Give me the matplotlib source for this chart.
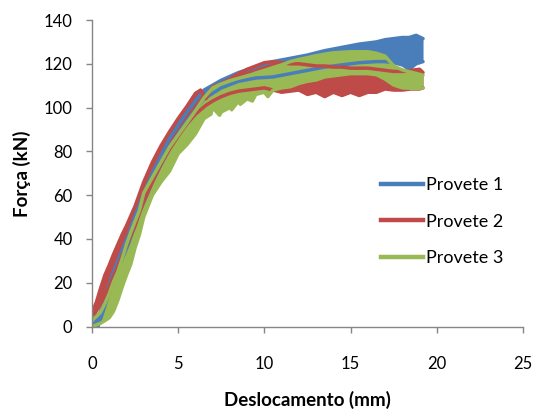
import matplotlib
matplotlib.use("Agg")
import matplotlib.pyplot as plt
import numpy as np
from matplotlib.lines import Line2D

plt.rcParams['font.family'] = ['Lato', 'DejaVu Sans']

# Provete 1 (blue) - lower / upper edge of the band
x1 = [0.1, 0.35, 0.65, 0.95, 1.3, 1.7, 2.1, 2.5, 2.8, 3.5, 4.5, 5.5, 6.5, 7.5, 8.5, 9.5,
      10.5, 11.5, 12.5, 13.5, 14.5, 15.5, 16.5, 17.0, 17.5, 18.0, 18.4, 18.8, 19.2]
hi1 = [1, 3.5, 11, 18.5, 26, 34, 41.5, 50.5, 57, 70, 86, 98, 108, 112.5, 116, 118.5,
       121, 122.5, 124, 126, 127.5, 129, 130, 131, 131.5, 132, 132, 133, 131.5]
lo1 = [0, 0, 7, 14.5, 22, 30, 37.5, 46.5, 53, 66, 82, 94, 104, 109, 112, 113.5,
       114, 115.5, 117, 118.5, 119.5, 120.5, 121, 121, 120.5, 119.5, 117.5, 120, 121]

# Provete 2 (red)
x2 = [0, 0.25, 0.5, 0.75, 1.0, 1.25, 1.5, 1.75, 2.0, 2.25, 2.5, 2.75, 3.0,
      3.5, 4.0, 4.5, 5.0, 5.5, 6.0, 6.3, 6.6, 7.0, 7.5, 8.0, 8.5, 9.0, 9.5, 10.0,
      10.5, 11.0, 11.5, 12.0, 12.5, 13.0, 13.5, 14.0, 14.5, 15.0, 15.5, 16.0, 16.5,
      17.0, 17.5, 18.0, 18.5, 19.0, 19.2]
hi2 = [6.5, 11, 17.5, 23.5, 28, 33, 37.5, 42, 46, 50.5, 55, 60.5, 66,
       75, 82.5, 89, 95, 100.5, 106.5, 108, 104, 109.5, 111, 113, 115.5, 117.5, 119, 120.5,
       121, 120.5, 120, 120, 119.5, 119, 119, 118.5, 118.5, 118, 118, 118, 117.5,
       117, 116.5, 116.5, 117, 117.5, 116]
lo2 = [3, 7, 10.5, 14, 18.5, 23, 27.5, 32.5, 37, 41.5, 46, 52, 57,
       66, 74, 81, 87, 92.5, 97, 99, 101, 103, 105, 106.5, 107.5, 108, 108.5, 109,
       108, 107, 107.5, 108, 106, 107, 105, 107, 105.5, 107, 105.5, 107, 107,
       108.5, 108, 108, 108.5, 108.5, 109]

# Provete 3 (green)
x3 = [0, 0.25, 0.5, 0.75, 1.0, 1.25, 1.5, 1.75, 2.0, 2.25, 2.5, 2.75, 3.0,
      3.5, 4.0, 4.5, 5.0, 5.5, 6.0, 6.5, 6.9, 7.0, 7.4, 7.5, 8.0, 8.1, 8.5, 8.6,
      9.0, 9.3, 9.5, 10.0, 10.2, 10.5, 11.0, 11.5, 12.0, 12.5, 13.0, 13.5, 14.0,
      15.0, 16.0, 16.5, 17.0, 17.5, 18.0, 18.5, 19.0, 19.2]
hi3 = [3, 4.5, 6.6, 10.5, 15, 20.5, 25, 31, 37.5, 43, 48, 53, 61,
       68, 75, 82, 87.5, 93, 98.5, 104.5, 108, 109, 110.5, 110.8, 112.3, 112.5, 113.4, 113.6,
       114.5, 115.2, 115.8, 117, 117.5, 118.3, 119.5, 121, 122, 122.8, 123.7, 124.4, 125,
       125.5, 125.5, 124.8, 123.5, 119, 117.2, 116.2, 115.2, 114.8]
lo3 = [0, 0.7, 1.5, 2.7, 4, 7, 12, 18, 23.5, 28.5, 36, 42, 50,
       60, 66, 71, 79, 83, 88, 95, 97, 100, 96.5, 98, 100, 99, 103, 101.5,
       104, 103, 106, 107, 105, 108, 109, 109.5, 111, 112, 112.6, 114, 114.5,
       115.5, 115.5, 115, 113, 110.3, 109, 108.8, 108.8, 109]

labels = ["Provete 1", "Provete 2", "Provete 3"]
colors = ["#4a7ebb", "#be4b48", "#98b954"]

fig = plt.figure(figsize=(5.37, 4.09), dpi=100)
ax = fig.add_axes([0.1713, 0.2017, 0.8027, 0.7494])

for (x, lo, hi), c in zip([(x1, lo1, hi1), (x2, lo2, hi2), (x3, lo3, hi3)], colors):
    ax.fill_between(x, lo, hi, color=c, lw=0)
    ax.plot(x, lo, color=c, lw=2.5, solid_capstyle='round')
    ax.plot(x, hi, color=c, lw=2.5, solid_capstyle='round')

ax.set_xlim(0, 25)
ax.set_ylim(0, 140)
ax.set_xticks(np.arange(0, 26, 5))
ax.set_yticks(np.arange(0, 141, 20))

for s in ['top', 'right']:
    ax.spines[s].set_visible(False)
for s in ['left', 'bottom']:
    ax.spines[s].set_color('#868686')
    ax.spines[s].set_linewidth(1)
ax.tick_params(axis='both', colors='#868686', labelcolor='black', labelsize=12,
               length=4, width=1)
ax.tick_params(axis='x', pad=17)
ax.tick_params(axis='y', pad=10)

ax.set_xlabel("Deslocamento (mm)", fontsize=13.5, fontweight='bold', labelpad=14)
ax.set_ylabel("Força (kN)", fontsize=13.5, fontweight='bold', labelpad=9)

handles = [Line2D([], [], color=c, lw=3.2) for c in colors]
ax.legend(handles, labels, loc='upper left', bbox_to_anchor=(0.67, 0.488),
          frameon=False, fontsize=13, handlelength=2.35, handletextpad=0.15,
          labelspacing=1.15, borderpad=0, borderaxespad=0)

fig.savefig("out.png", dpi=100)
